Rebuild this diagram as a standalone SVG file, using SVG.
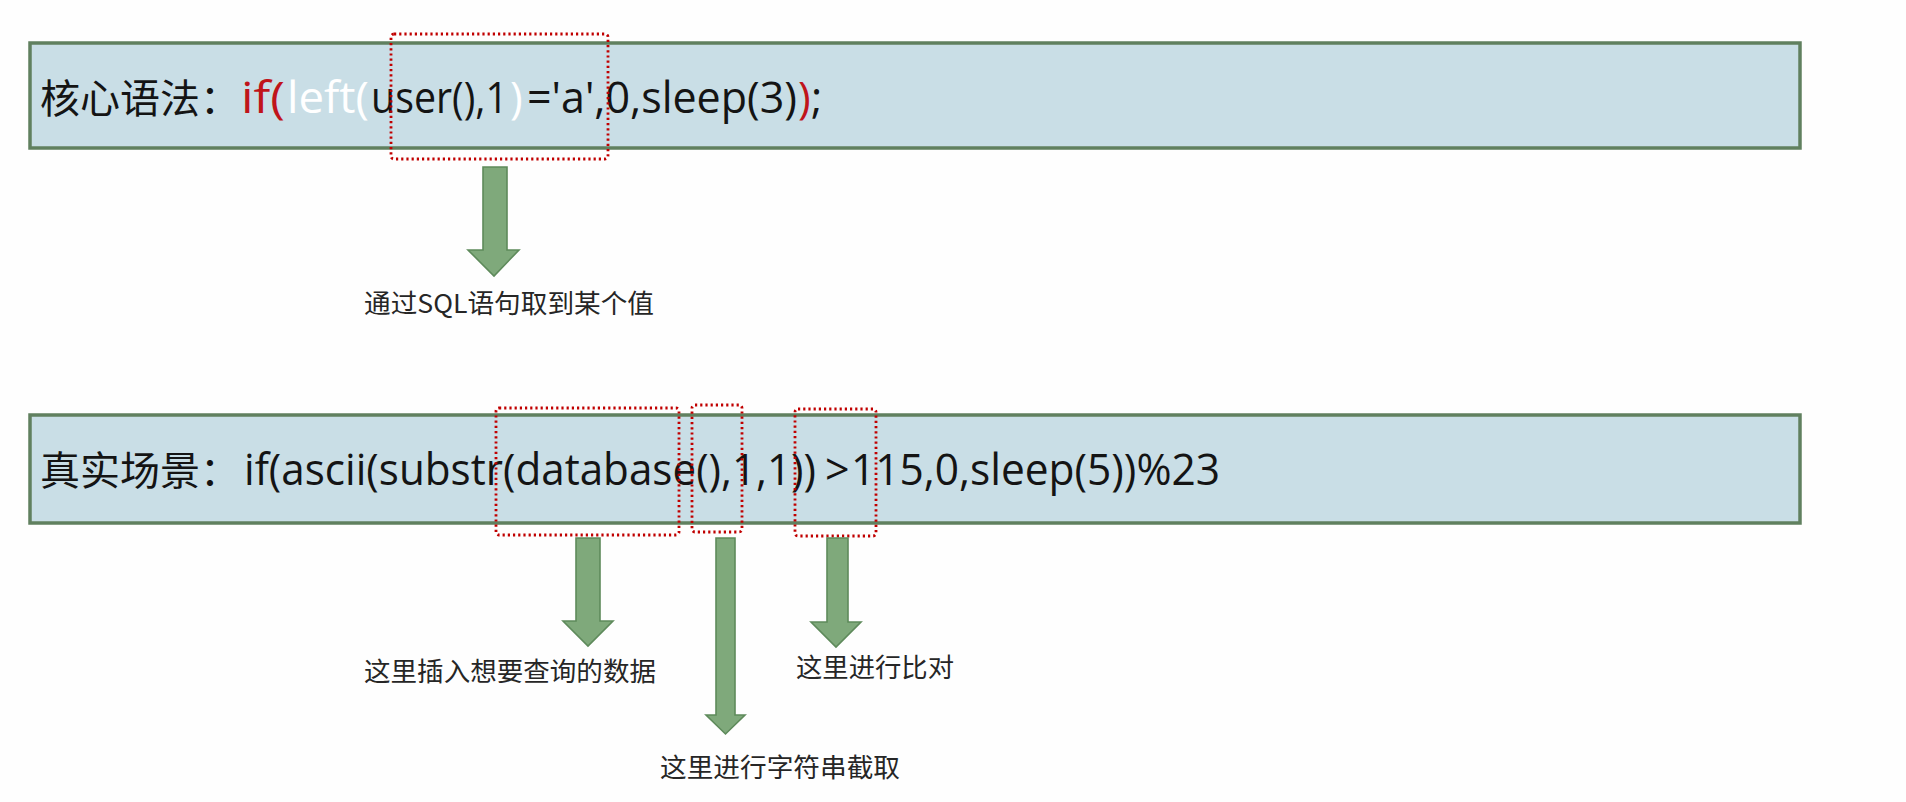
<svg xmlns="http://www.w3.org/2000/svg" width="1906" height="802" viewBox="0 0 1906 802">
<style>
.panel{fill:#C9DEE6;stroke:#60805F;stroke-width:3.5}
.hl{fill:none;stroke:#C00000;stroke-width:2.8;stroke-dasharray:2.2 3}
.arrow{fill:#7FA97B;stroke:#5E8A5B;stroke-width:1.6;stroke-linejoin:miter}
.cjk{font-family:"Noto Sans CJK SC","Noto Sans",sans-serif}
.code{font-family:"Open Sans","Noto Sans CJK SC",sans-serif;font-size:43px;fill:#141414}
.lbl{font-family:"Noto Sans CJK SC","Noto Sans",sans-serif;font-size:26px;fill:#262626}
.red{fill:#C0141A}
.wht{fill:#FFFFFF}
.blk{fill:#141414}
</style>
<rect width="1906" height="802" fill="#FEFEFE"/>

<g id="syntax-box">
<rect class="panel" x="30" y="43" width="1770" height="105"/>
<text class="cjk" x="40" y="113" font-size="40" fill="#141414">核心语法：</text>
<text class="code" y="113"><tspan class="red" x="241" textLength="44" lengthAdjust="spacingAndGlyphs">if(</tspan><tspan class="wht" x="287" textLength="82" lengthAdjust="spacingAndGlyphs">left(</tspan><tspan class="blk" x="371" textLength="137" lengthAdjust="spacingAndGlyphs">user(),1</tspan><tspan class="wht" x="510">)</tspan><tspan class="blk" x="527" textLength="270" lengthAdjust="spacingAndGlyphs">='a',0,sleep(3)</tspan><tspan class="red" x="798">)</tspan><tspan class="blk" x="811">;</tspan></text>
<rect class="hl" x="391" y="34" width="217" height="125" rx="3"/>
</g>

<g id="scene-box">
<rect class="panel" x="30" y="415" width="1770" height="108"/>
<text class="cjk" x="40" y="485" font-size="40" fill="#141414">真实场景：</text>
<text class="code" y="485"><tspan x="244" textLength="572" lengthAdjust="spacingAndGlyphs">if(ascii(substr(database(),1,1))</tspan><tspan x="825">&gt;</tspan><tspan x="851" textLength="369" lengthAdjust="spacingAndGlyphs">115,0,sleep(5))%23</tspan></text>
<rect class="hl" x="496" y="408" width="183" height="127" rx="3"/>
<rect class="hl" x="692" y="405" width="50" height="127" rx="3"/>
<rect class="hl" x="795" y="409" width="81" height="127" rx="3"/>
</g>

<g id="connectors">
<polygon class="arrow" points="483,167 507,167 507,250 519,250 494,276 468,250 483,250"/>
<polygon class="arrow" points="576,538 600,538 600,621 613,621 588,646 563,621 576,621"/>
<polygon class="arrow" points="716,538 735,538 735,715 745,715 725.5,734 706,715 716,715"/>
<polygon class="arrow" points="827,538 848,538 848,622 861,622 836,647 811,622 827,622"/>
</g>

<g id="label-value">
<text class="lbl" x="364" y="313" textLength="290" lengthAdjust="spacingAndGlyphs">通过SQL语句取到某个值</text>
</g>
<g id="label-insert">
<text class="lbl" x="364" y="681" textLength="292" lengthAdjust="spacingAndGlyphs">这里插入想要查询的数据</text>
</g>
<g id="label-substr">
<text class="lbl" x="660" y="777" textLength="240" lengthAdjust="spacingAndGlyphs">这里进行字符串截取</text>
</g>
<g id="label-compare">
<text class="lbl" x="796" y="677" textLength="158" lengthAdjust="spacingAndGlyphs">这里进行比对</text>
</g>
</svg>
